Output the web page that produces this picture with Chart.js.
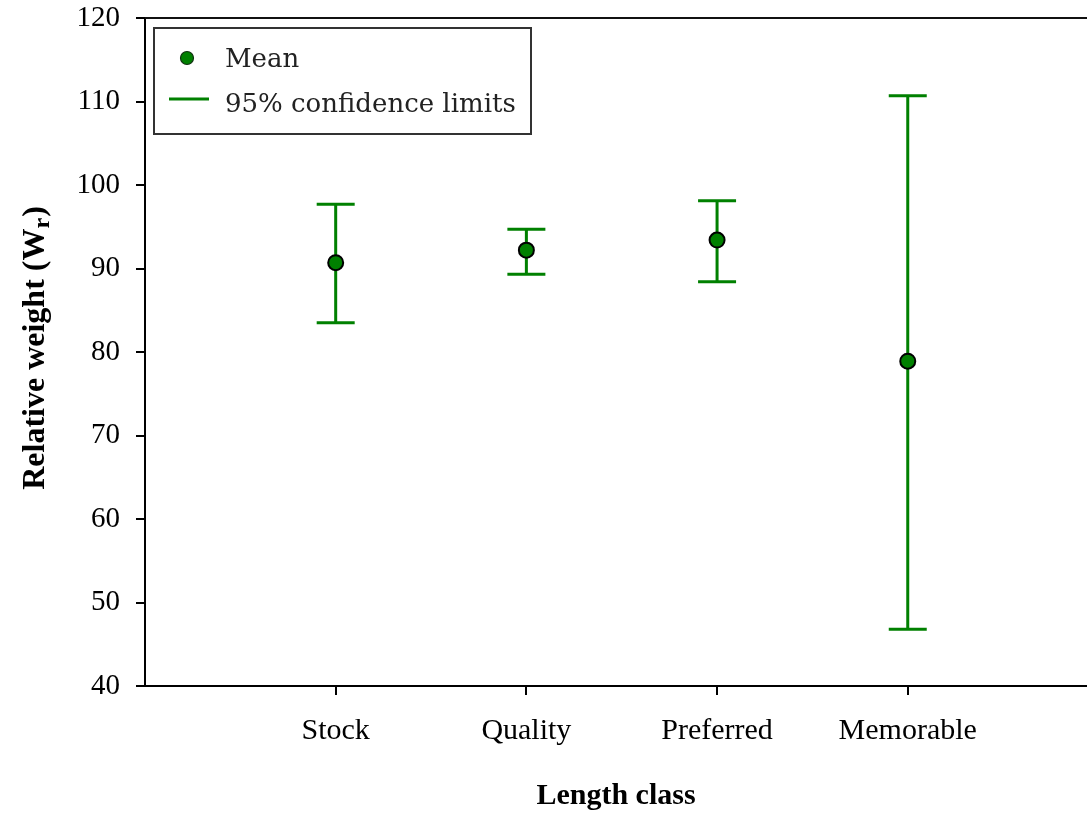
<!DOCTYPE html>
<html>
<head>
<meta charset="utf-8">
<script src="https://cdn.jsdelivr.net/npm/chart.js@4.4.1/dist/chart.umd.min.js"></script>
<style>
  html, body { margin: 0; padding: 0; background: #ffffff; }
  #wrap { width: 1087px; height: 814px; position: relative; }
</style>
</head>
<body>
<div id="wrap"><canvas id="chart"></canvas></div>
<script>
// Relative weight by length class: means and 95% confidence limits
const categories = ['Stock', 'Quality', 'Preferred', 'Memorable'];
const means = [90.7, 92.2, 93.4, 78.9];
const lower95 = [83.5, 89.3, 88.4, 46.8];
const upper95 = [97.7, 94.7, 98.1, 110.7];
const yMin = 40, yMax = 120, yStep = 10;

const GREEN = '#008000';
const SERIF = '"Liberation Serif", "Times New Roman", serif';
const LEGEND_FONT = '"DejaVu Serif", serif';

// Whiskers with caps, drawn from the confidence limits through the scales
const errorBars = {
  id: 'errorBars',
  beforeDatasetsDraw(chart) {
    const { ctx, scales: { x, y } } = chart;
    const capHalf = 19;
    ctx.save();
    ctx.strokeStyle = GREEN;
    ctx.lineWidth = 3;
    ctx.lineCap = 'butt';
    categories.forEach((c, i) => {
      const px = x.getPixelForValue(i + 1);
      const pLo = y.getPixelForValue(lower95[i]);
      const pHi = y.getPixelForValue(upper95[i]);
      ctx.beginPath();
      ctx.moveTo(px, pLo);
      ctx.lineTo(px, pHi);
      ctx.moveTo(px - capHalf, pHi);
      ctx.lineTo(px + capHalf, pHi);
      ctx.moveTo(px - capHalf, pLo);
      ctx.lineTo(px + capHalf, pLo);
      ctx.stroke();
    });
    ctx.restore();
  }
};

// Frame line along the top of the plot, boxed legend and the y-axis title with subscript
const decorations = {
  id: 'decorations',
  afterDraw(chart) {
    const { ctx, chartArea: a } = chart;
    ctx.save();

    // top frame line
    ctx.strokeStyle = '#111';
    ctx.lineWidth = 2;
    ctx.beginPath();
    ctx.moveTo(a.left, a.top);
    ctx.lineTo(a.right, a.top);
    ctx.stroke();

    // legend box
    const lx = a.left + 9, ly = a.top + 10, lw = 377, lh = 106;
    ctx.fillStyle = '#ffffff';
    ctx.fillRect(lx, ly, lw, lh);
    ctx.strokeStyle = '#333';
    ctx.lineWidth = 2;
    ctx.strokeRect(lx, ly, lw, lh);

    const meanSet = chart.data.datasets[0];
    const ciLabel = chart.data.datasets[1].label;
    // mean marker
    ctx.beginPath();
    ctx.arc(lx + 33, ly + 30, 6.5, 0, Math.PI * 2);
    ctx.fillStyle = GREEN;
    ctx.fill();
    ctx.strokeStyle = '#103010';
    ctx.lineWidth = 1.2;
    ctx.stroke();
    // confidence line sample
    ctx.strokeStyle = GREEN;
    ctx.lineWidth = 3;
    ctx.beginPath();
    ctx.moveTo(lx + 15, ly + 71);
    ctx.lineTo(lx + 55, ly + 71);
    ctx.stroke();

    ctx.fillStyle = '#222';
    ctx.font = '26px ' + LEGEND_FONT;
    ctx.textAlign = 'left';
    ctx.textBaseline = 'alphabetic';
    ctx.fillText(meanSet.label, lx + 71, ly + 39);
    ctx.fillText(ciLabel, lx + 71, ly + 84);

    // y-axis title: Relative weight (W_r)
    const mainFont = 'bold 32px ' + SERIF;
    const subFont = 'bold 24px ' + SERIF;
    const partA = 'Relative weight (W';
    const partB = 'r';
    const partC = ')';
    ctx.font = mainFont;
    const wA = ctx.measureText(partA).width;
    const wC = ctx.measureText(partC).width;
    ctx.font = subFont;
    const wB = ctx.measureText(partB).width;
    const total = wA + wB + wC + 1;
    ctx.translate(44, 348);
    ctx.rotate(-Math.PI / 2);
    ctx.fillStyle = '#000';
    ctx.textAlign = 'left';
    let cx = -total / 2;
    ctx.font = mainFont;
    ctx.fillText(partA, cx, 0);
    cx += wA;
    ctx.font = subFont;
    ctx.fillText(partB, cx, 5);
    cx += wB + 1;
    ctx.font = mainFont;
    ctx.fillText(partC, cx, 0);

    ctx.restore();
  }
};

new Chart(document.getElementById('chart'), {
  type: 'scatter',
  data: {
    datasets: [
      {
        label: 'Mean',
        data: means.map((m, i) => ({ x: i + 1, y: m })),
        backgroundColor: GREEN,
        borderColor: '#000',
        borderWidth: 2,
        pointRadius: 7.5,
        pointHoverRadius: 7.5
      },
      {
        label: '95% confidence limits',
        data: [],
        borderColor: GREEN,
        backgroundColor: GREEN
      }
    ]
  },
  options: {
    responsive: true,
    maintainAspectRatio: false,
    animation: false,
    layout: { autoPadding: false, padding: { top: 18, left: 0, right: 0, bottom: 0 } },
    plugins: {
      legend: { display: false },
      tooltip: { enabled: false }
    },
    scales: {
      x: {
        type: 'linear',
        min: 0,
        max: 4.94,
        afterBuildTicks(scale) {
          scale.ticks = categories.map((c, i) => ({ value: i + 1 }));
        },
        afterFit(scale) {
          scale.height = 128;
          scale.paddingLeft = 0;
          scale.paddingRight = 0;
        },
        ticks: {
          callback: (v) => categories[v - 1] || '',
          color: '#000',
          font: { family: SERIF, size: 30 },
          padding: 18,
          maxRotation: 0,
          autoSkip: false
        },
        grid: {
          drawOnChartArea: false,
          drawTicks: true,
          tickLength: 9,
          color: '#000',
          lineWidth: 2
        },
        border: { display: true, color: '#000', width: 2 },
        title: {
          display: true,
          text: 'Length class',
          color: '#000',
          font: { family: SERIF, size: 30, weight: 'bold' },
          padding: { top: 0, bottom: 0 }
        }
      },
      y: {
        min: yMin,
        max: yMax,
        afterFit(scale) {
          scale.width = 145;
          scale.paddingTop = 0;
          scale.paddingBottom = 0;
        },
        ticks: {
          stepSize: yStep,
          color: '#000',
          font: { family: SERIF, size: 29 },
          padding: 16
        },
        grid: {
          drawOnChartArea: false,
          drawTicks: true,
          tickLength: 9,
          color: '#000',
          lineWidth: 2
        },
        border: { display: true, color: '#000', width: 2 }
      }
    }
  },
  plugins: [errorBars, decorations]
});
</script>
</body>
</html>
